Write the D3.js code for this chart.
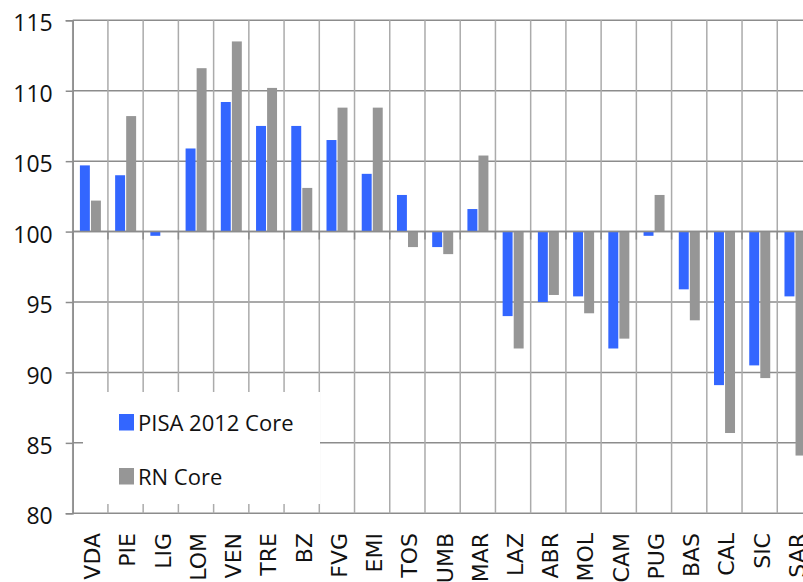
<!DOCTYPE html>
<html>
<head>
<meta charset="utf-8">
<script src="https://cdn.jsdelivr.net/npm/d3@7"></script>
<style>
  body { margin: 0; background: #fff; }
  svg { display: block; }
</style>
</head>
<body>
<svg id="chart"></svg>
<script>
// regions and the two index series (Italy = 100)
const regions = ['VDA','PIE','LIG','LOM','VEN','TRE','BZ','FVG','EMI','TOS','UMB','MAR',
                 'LAZ','ABR','MOL','CAM','PUG','BAS','CAL','SIC','SAR'];
const pisaCore = [104.7, 104.0, 99.7, 105.9, 109.2, 107.5, 107.5, 106.5, 104.1, 102.6, 98.9, 101.6,
                  94.0, 95.0, 95.4, 91.7, 99.7, 95.9, 89.1, 90.5, 95.4];
const rnCore   = [102.2, 108.2, 100.0, 111.6, 113.5, 110.2, 103.1, 108.8, 108.8, 98.9, 98.4, 105.4,
                  91.7, 95.5, 94.2, 92.4, 102.6, 93.7, 85.7, 89.6, 84.1];
const seriesNames = ['PISA 2012 Core', 'RN Core'];
const yTicks = [80, 85, 90, 95, 100, 105, 110, 115];
const colors = ['#3366ff', '#969696'];

const W = 803, H = 582;
const plotLeft = 72.7, plotRight = 812.5, plotTop = 20.3, plotBottom = 513.3;

const svg = d3.select('#chart').attr('width', W).attr('height', H);

const x = d3.scaleBand().domain(regions).range([plotLeft, plotRight]).padding(0);
const xs = d3.scaleBand().domain(seriesNames).range([7.2, 28.2]).paddingInner(0.1);
const y = d3.scaleLinear().domain([80, 115]).range([plotBottom, plotTop]);

// horizontal gridlines
svg.append('g')
  .selectAll('line')
  .data(yTicks)
  .join('line')
  .attr('x1', plotLeft).attr('x2', W)
  .attr('y1', d => y(d)).attr('y2', d => y(d))
  .attr('stroke', '#8c8c8c')
  .attr('stroke-width', 1.5);

// vertical gridlines at category boundaries
svg.append('g')
  .selectAll('line')
  .data(regions)
  .join('line')
  .attr('x1', d => x(d)).attr('x2', d => x(d))
  .attr('y1', plotTop).attr('y2', plotBottom)
  .attr('stroke', '#ababab')
  .attr('stroke-width', 1.5);

// y axis with ticks and labels
const yAxis = d3.axisLeft(y).tickValues(yTicks).tickSize(7).tickPadding(13);
const gy = svg.append('g')
  .attr('transform', `translate(${plotLeft},0)`)
  .call(yAxis);
gy.select('.domain').attr('stroke', '#8c8c8c').attr('stroke-width', 1.5);
gy.selectAll('.tick line').attr('stroke', '#8c8c8c').attr('stroke-width', 1.5);
gy.selectAll('.tick text')
  .attr('dy', '0.46em')
  .style('font-family', '"Open Sans", sans-serif')
  .style('font-size', '23px')
  .attr('fill', '#111');

// legend box (covers the gridlines)
const legend = svg.append('g');
legend.append('rect')
  .attr('x', 83).attr('y', 392).attr('width', 237).attr('height', 112)
  .attr('fill', '#fff');
seriesNames.forEach((s, i) => {
  legend.append('rect')
    .attr('x', 119).attr('y', 414 + i * 54)
    .attr('width', 15).attr('height', 16.5)
    .attr('fill', colors[i]);
  legend.append('text')
    .attr('x', 138).attr('y', 431 + i * 54)
    .style('font-family', '"Open Sans", sans-serif')
    .style('font-size', '22px')
    .attr('fill', '#111')
    .text(s);
});

// bars, grown from the 100 line
const series = [pisaCore, rnCore];
series.forEach((vals, si) => {
  svg.append('g')
    .selectAll('rect')
    .data(vals)
    .join('rect')
    .attr('x', (d, i) => x(regions[i]) + xs(seriesNames[si]))
    .attr('width', xs.bandwidth())
    .attr('y', d => y(Math.max(d, 100)))
    .attr('height', d => Math.abs(y(d) - y(100)))
    .attr('fill', colors[si]);
});

// category axis crosses at 100
svg.append('line')
  .attr('x1', plotLeft).attr('x2', W)
  .attr('y1', y(100)).attr('y2', y(100))
  .attr('stroke', '#8c8c8c')
  .attr('stroke-width', 1.5);
svg.append('g')
  .selectAll('line')
  .data(regions)
  .join('line')
  .attr('x1', d => x(d)).attr('x2', d => x(d))
  .attr('y1', y(100)).attr('y2', y(100) + 8)
  .attr('stroke', '#8c8c8c')
  .attr('stroke-width', 1.5);

// rotated category labels under the plot
svg.append('g')
  .selectAll('text')
  .data(regions)
  .join('text')
  .attr('transform', d => `translate(${x(d) + x.bandwidth() / 2 + 2},533) rotate(-90)`)
  .attr('text-anchor', 'end')
  .attr('dy', '0.36em')
  .style('font-family', '"DejaVu Sans", sans-serif')
  .style('font-size', '22px')
  .attr('fill', '#111')
  .text(d => d);
</script>
</body>
</html>
